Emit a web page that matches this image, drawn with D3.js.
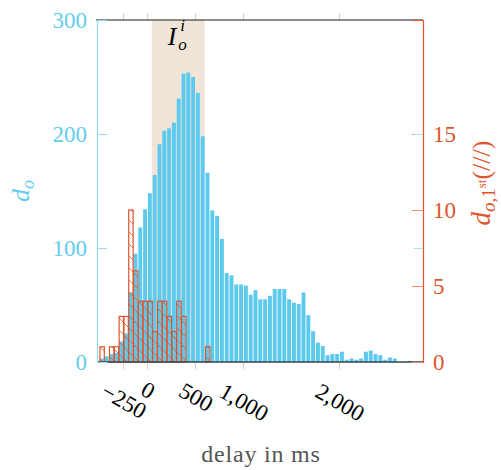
<!DOCTYPE html>
<html>
<head>
<meta charset="utf-8">
<script src="https://cdn.jsdelivr.net/npm/d3@7"></script>
<style>
  body { margin: 0; background: #fff; }
  svg text { font-family: "Liberation Serif", "Times New Roman", serif; }
</style>
</head>
<body>
<div id="chart"></div>
<script>
// histogram bins, 50 ms wide, first bin starts at -500 ms
var binWidth = 50;
var binStarts = d3.range(-500, 2750, binWidth);

// d_o : all delays (left axis)
var allCounts = [3, 5, 7, 8, 18, 25, 61, 95, 118, 134,
                 148, 164, 191, 203, 205, 210, 231, 253, 254, 250,
                 236, 198, 166, 133, 128, 108, 78, 76, 68, 68,
                 67, 59, 63, 55, 55, 58, 64, 64, 64, 55,
                 52, 51, 61, 41, 27, 17, 14, 6, 7, 7,
                 9, 2, 3, 2, 3, 9, 10, 7, 6, 2,
                 4, 3, 0, 0, 1];

// d_o,1st : first delays (right axis, hatched)
var firstCounts = [1, 0, 1, 1, 3, 3, 10, 6, 4, 4,
                   4, 2, 4, 4, 3, 2, 4, 3, 0, 0,
                   0, 0, 1];

var xTicks = [-250, 0, 500, 1000, 2000];
var xTickLabels = ["\u2212250", "0", "500", "1,000", "2,000"];
var leftTicks = [0, 100, 200, 300];
var rightTicks = [0, 5, 10, 15];
var interval = [50, 600];   // I_o^i

var blue = "#5cc9ee", blueText = "#62ccef", orange = "#e0542a";

var margin = {top: 20, right: 78, bottom: 108, left: 97};
var W = 501, H = 470;
var width = W - margin.left - margin.right;
var height = H - margin.top - margin.bottom;

var svg = d3.select("#chart").append("svg")
    .attr("width", W)
    .attr("height", H);

var defs = svg.append("defs");
var hatch = defs.append("pattern")
    .attr("id", "hatch")
    .attr("patternUnits", "userSpaceOnUse")
    .attr("width", 12).attr("height", 12);
hatch.append("path")
    .attr("d", "M0,0 L12,12 M-2,10 L2,14 M10,-2 L14,2")
    .attr("stroke", orange)
    .attr("stroke-width", 0.8);

var g = svg.append("g")
    .attr("transform", "translate(" + margin.left + "," + margin.top + ")");

var x = d3.scaleLinear().domain([-520, 2875]).range([0, width]);
var yL = d3.scaleLinear().domain([0, 300]).range([height, 0]);
var yR = d3.scaleLinear().domain([0, 22.5]).range([height, 0]);

// shaded interval
g.append("rect")
    .attr("x", x(interval[0]))
    .attr("y", 0)
    .attr("width", x(interval[1]) - x(interval[0]))
    .attr("height", height)
    .attr("fill", "#f1e5d9");

var bw = x(binWidth) - x(0);

var allData = allCounts.map(function (c, i) { return {x0: binStarts[i], n: c}; });
var firstData = firstCounts.map(function (c, i) { return {x0: binStarts[i], n: c}; })
    .filter(function (d) { return d.n > 0; });

g.append("g").selectAll("rect")
    .data(allData)
    .enter().append("rect")
    .attr("x", function (d) { return x(d.x0) + 1; })
    .attr("y", function (d) { return yL(d.n); })
    .attr("width", bw - 0.9)
    .attr("height", function (d) { return height - yL(d.n); })
    .attr("fill", blue);

g.append("g").selectAll("rect")
    .data(firstData)
    .enter().append("rect")
    .attr("x", function (d) { return x(d.x0) + 1; })
    .attr("y", function (d) { return yR(d.n); })
    .attr("width", bw - 0.4)
    .attr("height", function (d) { return height - yR(d.n); })
    .attr("fill", "url(#hatch)")
    .attr("stroke", orange)
    .attr("stroke-width", 1.2);

// label of the interval
var cx = (x(interval[0]) + x(interval[1])) / 2;
g.append("text").attr("x", cx - 6).attr("y", 25)
    .attr("text-anchor", "middle").attr("font-size", 26)
    .attr("font-style", "italic").text("I");
g.append("text").attr("x", cx + 2).attr("y", 11)
    .attr("font-size", 17).attr("font-style", "italic").text("i");
g.append("text").attr("x", cx).attr("y", 30)
    .attr("font-size", 17).attr("font-style", "italic").text("o");

// x axis (bottom)
var xAxis = g.append("g")
    .attr("transform", "translate(0," + height + ")")
    .call(d3.axisBottom(x).tickValues(xTicks).tickSize(7).tickFormat(""));
xAxis.select(".domain").remove();
xAxis.selectAll(".tick line").attr("stroke", "#d0d0d0");

var xTop = g.append("g")
    .call(d3.axisTop(x).tickValues(xTicks).tickSize(7).tickFormat(""));
xTop.select(".domain").remove();
xTop.selectAll(".tick line").attr("stroke", "#d0d0d0");

g.append("line").attr("x1", 0).attr("x2", width)
    .attr("y1", height).attr("y2", height)
    .attr("stroke", "#33454c").attr("stroke-width", 1.6);
g.append("line").attr("x1", -1).attr("x2", width)
    .attr("y1", 0).attr("y2", 0)
    .attr("stroke", "#1a1a1a").attr("stroke-width", 1.2);

var labels = g.append("g").selectAll("text")
    .data(xTicks)
    .enter().append("text")
    .attr("font-size", 23)
    .attr("text-anchor", "middle")
    .attr("dominant-baseline", "central")
    .text(function (d, i) { return xTickLabels[i]; });
labels.attr("transform", function (d) {
    var w = this.getComputedTextLength();
    return "translate(" + (x(d) + 1) + "," + (height + 25 + 0.3 * w) + ") rotate(30)";
});

g.append("text")
    .attr("x", 164).attr("y", height + 100)
    .attr("text-anchor", "middle")
    .attr("font-size", 24)
    .attr("letter-spacing", 0.8)
    .attr("fill", "#555")
    .text("delay in ms");

// left axis
var left = g.append("g")
    .call(d3.axisLeft(yL).tickValues(leftTicks).tickSize(-10).tickPadding(10));
left.select(".domain").attr("stroke", "#8fdcf5").attr("stroke-width", 1.2);
left.selectAll(".tick line").attr("stroke", "#8fdcf5");
left.selectAll(".tick text").attr("fill", blueText).attr("font-size", 23);

// right axis
var right = g.append("g")
    .attr("transform", "translate(" + width + ",0)")
    .call(d3.axisRight(yR).tickValues(rightTicks).tickSize(-11).tickPadding(10));
right.select(".domain").attr("stroke", orange).attr("stroke-width", 1.2);
right.selectAll(".tick line").attr("stroke", "#e98c70");
right.selectAll(".tick text").attr("fill", orange).attr("font-size", 23);

// left-axis ticks mirrored on the right side
var mirror = g.append("g")
    .attr("transform", "translate(" + width + ",0)")
    .call(d3.axisRight(yL).tickValues([100, 200]).tickSize(-9).tickFormat(""));
mirror.select(".domain").remove();
mirror.selectAll(".tick line").attr("stroke", "#a5e2f6");

// axis titles
var lt = g.append("text")
    .attr("transform", "translate(-68," + (height / 2) + ") rotate(-90)")
    .attr("text-anchor", "middle")
    .attr("fill", blueText)
    .attr("font-style", "italic");
lt.append("tspan").attr("font-size", 26).text("d");
lt.append("tspan").attr("font-size", 18).attr("dy", 5).text("o");

var rt = g.append("text")
    .attr("transform", "translate(" + (width + 67) + "," + (height / 2 - 8) + ") rotate(-90)")
    .attr("text-anchor", "middle")
    .attr("fill", orange);
rt.append("tspan").attr("font-size", 27).attr("font-style", "italic").text("d");
rt.append("tspan").attr("font-size", 19).attr("font-style", "italic").attr("dy", 5).text("o");
rt.append("tspan").attr("font-size", 19).text(",1");
rt.append("tspan").attr("font-size", 13).attr("dy", -9).text("st");
rt.append("tspan").attr("font-size", 26).attr("dy", 4).text("(///)");
</script>
</body>
</html>
